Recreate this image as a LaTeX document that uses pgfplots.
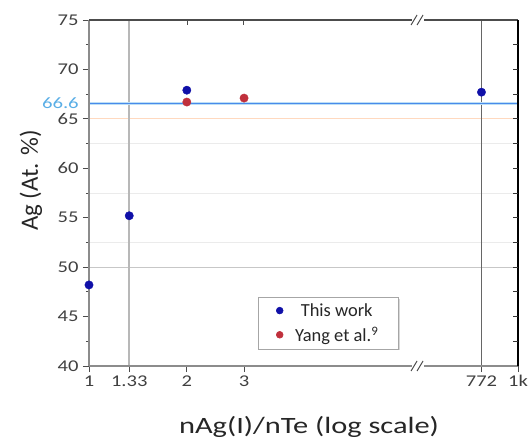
\documentclass[border=0pt]{standalone}
\usepackage{pgfplots}
\pgfplotsset{compat=1.18}
\usetikzlibrary{shadows}
\usepackage{fontspec}
\setmainfont{Carlito}
\definecolor{ptblue}{HTML}{1010A8}
\definecolor{ptred}{HTML}{C0303C}
\definecolor{refblue}{HTML}{5AAEE6}
\newcommand{\tl}[1]{\scalebox{1.25}[1]{#1}}
\begin{document}
\begin{tikzpicture}
\begin{axis}[
  at={(0,0)}, anchor=south west,
  scale only axis,
  width=429bp, height=346bp,
  xmin=1, xmax=1000,
  ymin=40, ymax=75,
  x coord trafo/.code={\pgfmathparse{#1>100 ? log10(max(#1,0.001))-1.68 : log10(max(#1,0.001))}},
  xtick={1,1.33,2,3,772,1000},
  xticklabels={\tl{1},\tl{1.33},\tl{2},\tl{3},\tl{772},\tl{1k}},
  ytick={40,45,...,75},
  yticklabel={\tl{\pgfmathprintnumber{\tick}}},
  minor ytick={42.5,47.5,...,72.5},
  tick align=outside,
  xtick pos=bottom, ytick pos=left,
  major tick length=6bp, minor tick length=3bp,
  tick style={black!70, line width=1pt},
  axis line style={draw=none},
  /pgf/number format/assume math mode=true,
  ticklabel style={font=\fontsize{16.5}{18}\selectfont, text=black!75},
  yticklabel style={xshift=-1bp},
  xlabel={nAg(I)/nTe (log scale)},
  ylabel={Ag (At. \%)},
  xlabel style={font=\fontsize{23.5}{26}\selectfont, text=black!85, xscale=1.3,
    at={(rel axis cs:0.513,0)}, anchor=base, yshift=-67bp},
  ylabel style={font=\fontsize{25}{28}\selectfont, text=black!85,
    at={(rel axis cs:-0.1352,0.536)}, anchor=center},
  legend style={at={(rel axis cs:0.394,0.199)}, anchor=north west,
    font=\fontsize{18.5}{21}\selectfont, draw=black!35, line width=0.6pt,
    fill=white, drop shadow={shadow xshift=1.5bp, shadow yshift=-1.5bp, fill=black!30},
    row sep=5bp, column sep=10bp, inner xsep=18bp, inner ysep=4bp,
    legend cell align=center,
    nodes={text=black!85}},
  legend image post style={mark size=3.4pt},
  clip=false,
]
% grid / reference lines
\addplot[black!8, line width=0.6pt, forget plot] coordinates {(1,52.5) (1000,52.5)};
\addplot[black!8, line width=0.6pt, forget plot] coordinates {(1,57.5) (1000,57.5)};
\addplot[black!8, line width=0.6pt, forget plot] coordinates {(1,62.5) (1000,62.5)};
\addplot[black!22, line width=0.9pt, forget plot] coordinates {(1,50) (1000,50)};
\addplot[red!20!orange!25, line width=1pt, forget plot] coordinates {(1,65) (1000,65)};
\addplot[black!28, line width=2pt, forget plot] coordinates {(1.33,40) (1.33,75)};
\addplot[black!60, line width=0.7pt, forget plot] coordinates {(772,40) (772,75)};
\addplot[refblue!40, line width=3pt, forget plot] coordinates {(1,66.6) (1000,66.6)};
\addplot[refblue!80!blue, line width=1pt, forget plot] coordinates {(1,66.6) (1000,66.6)};
% data
\addplot[only marks, mark=*, mark size=4.2pt, ptblue] coordinates {
  (1,48.2) (1.33,55.2) (2,67.9) (772,67.7)};
\addlegendentry{This work}
\addplot[only marks, mark=*, mark size=4.2pt, ptred] coordinates {
  (2,66.7) (3,67.1)};
\addlegendentry{Yang et al.\textsuperscript{9}}
% frame
\draw[black!45, line width=2pt] (rel axis cs:0,0) -- (rel axis cs:0,1);
\draw[black!45, line width=1.6pt] (rel axis cs:0,0) -- (rel axis cs:1,0);
\draw[black!70, line width=1.5pt] (rel axis cs:0,1) -- (rel axis cs:1,1);
\draw[black, line width=1.8pt] (rel axis cs:1,0) -- (rel axis cs:1,1);
% right ticks
\pgfplotsinvokeforeach{0.0714,0.1429,0.2143,0.2857,0.3571,0.4286,0.5,0.5714,0.6429,0.7143,0.7857,0.8571,0.9286}{
  \draw[black!80, line width=1pt] (rel axis cs:1,#1) -- ++(-5bp,0bp);
}
% top ticks
\draw[black!70, line width=1pt] (rel axis cs:0.2286,1) -- ++(0bp,-5bp);
\draw[black!70, line width=1pt] (rel axis cs:0.3590,1) -- ++(0bp,-5bp);
% axis breaks
\pgfplotsinvokeforeach{0,1}{
  \fill[white] ([xshift=-6bp,yshift=-3bp]rel axis cs:0.767,#1) rectangle ++(12bp,6bp);
  \draw[black!70, line width=1pt] ([xshift=-7bp,yshift=-5bp]rel axis cs:0.767,#1) -- ++(6bp,10bp);
  \draw[black!70, line width=1pt] ([xshift=-1bp,yshift=-5bp]rel axis cs:0.767,#1) -- ++(6bp,10bp);
}
\node[anchor=east, text=refblue, font=\fontsize{16}{18}\selectfont, xscale=1.3, inner sep=0bp] at ([xshift=-10bp]rel axis cs:0,0.759) {66.6};
\end{axis}
\pgfresetboundingbox
\useasboundingbox (-89bp,-75bp) rectangle (441bp,366bp);
\end{tikzpicture}
\end{document}
